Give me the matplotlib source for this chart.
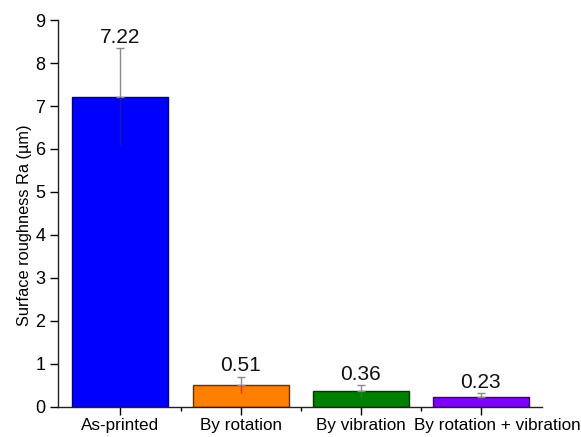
import matplotlib
matplotlib.use("Agg")
import matplotlib.pyplot as plt
import matplotlib.transforms as mtransforms
from matplotlib.ticker import MultipleLocator

plt.rcParams['font.family'] = ['Liberation Sans', 'DejaVu Sans']

categories = ["As-printed", "By rotation", "By vibration", "By rotation + vibration"]
values = [7.22, 0.51, 0.36, 0.23]
errors = [1.12, 0.19, 0.14, 0.08]
labels = ["7.22", "0.51", "0.36", "0.23"]
colors = ["#0000FF", "#FF7F00", "#007F00", "#8000FF"]
edges = ["#00007A", "#6A3000", "#003A00", "#3A0070"]
lower_colors = ["#2020A0", "#E02010", "#3A7A3A", "#7040A0"]

fig = plt.figure(figsize=(5.81, 4.37), dpi=100)
ax = fig.add_axes([0.0998, 0.0693, 0.8332, 0.8847])

x = list(range(len(categories)))
ax.bar(x, values, width=0.8, color=colors, edgecolor=edges, linewidth=1.0, zorder=2)

for xi, v, e, lc in zip(x, values, errors, lower_colors):
    ax.errorbar([xi], [v], yerr=[[0], [e]], fmt='none', ecolor='#8a8a8a',
                elinewidth=1.0, capsize=3, capthick=1.0, zorder=3)
    ax.errorbar([xi], [v], yerr=[[e], [0]], fmt='none', ecolor=lc,
                elinewidth=1.0, capsize=0, zorder=3, alpha=0.8)

for xi, v, e, t in zip(x, values, errors, labels):
    ax.text(xi, v + e + 0.03, t, ha='center', va='bottom', fontsize=15, color='#111111')

ax.set_xlim(-0.52, 3.51)
ax.set_ylim(0, 9)
ax.yaxis.set_major_locator(MultipleLocator(1))
ax.set_xticks(x)
ax.set_xticklabels(categories, fontsize=12.3)
ax.set_xticks([0.5, 1.5, 2.5], minor=True)
ax.tick_params(axis='x', which='major', direction='out', length=6, width=1, pad=2)
ax.tick_params(axis='x', which='minor', direction='out', length=3, width=1)
ax.tick_params(axis='y', which='major', direction='out', length=6, width=1, labelsize=13, pad=3)

# last category label sits slightly right of its tick, as in the reference
last = ax.get_xticklabels()[-1]
last.set_transform(last.get_transform() + mtransforms.ScaledTranslation(0.17, 0, fig.dpi_scale_trans))

for s in ['top', 'right']:
    ax.spines[s].set_visible(False)
for s in ['left', 'bottom']:
    ax.spines[s].set_linewidth(1.0)
    ax.spines[s].set_color('#222222')

ax.set_ylabel("Surface roughness Ra (\u00b5m)", fontsize=11.8)
ax.yaxis.set_label_coords(-0.054, 0.47)

fig.savefig("out.png", dpi=100)
